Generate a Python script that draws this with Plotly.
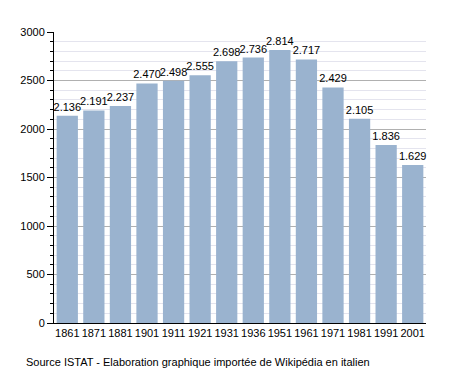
import plotly.graph_objects as go

years = ["1861", "1871", "1881", "1901", "1911", "1921", "1931", "1936", "1951", "1961", "1971", "1981", "1991", "2001"]
population = [2136, 2191, 2237, 2470, 2498, 2555, 2698, 2736, 2814, 2717, 2429, 2105, 1836, 1629]
labels = [f"{v:,}".replace(",", ".") for v in population]
y_ticks = [0, 500, 1000, 1500, 2000, 2500, 3000]

fig = go.Figure(go.Bar(
    x=years, y=population, text=labels, textposition="outside",
    constraintext="none",
    marker=dict(color="#9ab3cf", line=dict(width=0)),
    textfont=dict(family="Liberation Sans, Arial", size=11, color="black"),
    cliponaxis=False,
))
fig.update_layout(
    width=455, height=373,
    margin=dict(l=42, r=37, t=24, b=58),
    paper_bgcolor="white", plot_bgcolor="white",
    bargap=0.2, showlegend=False,
    font=dict(family="Liberation Sans, Arial", size=11, color="black"),
    xaxis=dict(type="category", showline=True, linecolor="black", linewidth=1,
               ticks="", showgrid=False, tickfont=dict(size=11)),
    yaxis=dict(range=[0, 3000], tickvals=y_ticks, showline=True, linecolor="black",
               linewidth=1, ticks="outside", ticklen=6, tickcolor="black",
               showgrid=True, gridcolor="#b0b0b0", gridwidth=1, zeroline=False,
               tickfont=dict(size=11),
               minor=dict(dtick=100, showgrid=True, gridcolor="#e4e4ee", ticks="outside",
                          ticklen=3, tickcolor="black")),
    annotations=[dict(text="Source ISTAT - Elaboration graphique importée de Wikipédia en italien",
                      xref="paper", yref="paper", x=-0.08, y=-0.134, xanchor="left",
                      yanchor="middle", showarrow=False, font=dict(size=11))],
)
fig.write_html("out.html")
